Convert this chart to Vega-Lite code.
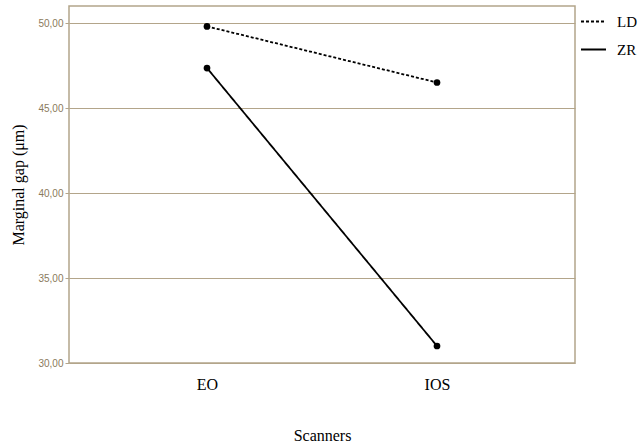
{
  "$schema": "https://vega.github.io/schema/vega-lite/v6.json",
  "width": 506,
  "height": 357,
  "autosize": {"type": "none"},
  "padding": {"left": 69, "top": 6, "right": 65, "bottom": 84},
  "background": "white",
  "config": {
    "view": {"stroke": "#b3a58a", "strokeWidth": 1.5},
    "font": "Liberation Serif"
  },
  "data": {
    "values": [
      {"scanner": "EO", "material": "LD", "gap": 49.8},
      {"scanner": "IOS", "material": "LD", "gap": 46.5},
      {"scanner": "EO", "material": "ZR", "gap": 47.35},
      {"scanner": "IOS", "material": "ZR", "gap": 31.0}
    ]
  },
  "encoding": {
    "x": {
      "field": "scanner",
      "type": "nominal",
      "sort": ["EO", "IOS"],
      "scale": {"type": "point", "padding": 0.6},
      "axis": {
        "title": "Scanners",
        "labelAngle": 0,
        "ticks": false,
        "domain": false,
        "grid": false,
        "labelFont": "Liberation Serif",
        "labelFontSize": 16,
        "labelColor": "black",
        "labelPadding": 13,
        "titleFont": "Liberation Serif",
        "titleFontSize": 16,
        "titleFontWeight": "normal",
        "titleColor": "black",
        "titlePadding": 35
      }
    },
    "y": {
      "field": "gap",
      "type": "quantitative",
      "scale": {"domain": [30, 51], "nice": false, "zero": false},
      "axis": {
        "title": "Marginal gap (μm)",
        "values": [30, 35, 40, 45, 50],
        "labelExpr": "replace(format(datum.value, '.2f'), '.', ',')",
        "labelFont": "Liberation Sans",
        "labelFontSize": 10,
        "labelColor": "#8a7a5c",
        "labelPadding": 2,
        "tickColor": "#b3a58a",
        "tickSize": 4,
        "domain": false,
        "grid": true,
        "gridColor": "#b3a58a",
        "gridOpacity": 1,
        "gridWidth": 1,
        "titleFont": "Liberation Serif",
        "titleFontSize": 16,
        "titleFontWeight": "normal",
        "titleColor": "black",
        "titlePadding": 11
      }
    }
  },
  "layer": [
    {
      "mark": {"type": "line", "color": "black", "strokeWidth": 1.8},
      "encoding": {
        "strokeDash": {
          "field": "material",
          "type": "nominal",
          "scale": {"domain": ["LD", "ZR"], "range": [[3, 2], [1, 0]]},
          "legend": {
            "title": null,
            "orient": "none",
            "legendX": 511,
            "legendY": 2,
            "symbolType": "stroke",
            "symbolSize": 625,
            "symbolStrokeColor": "black",
            "symbolStrokeWidth": 1.8,
            "labelFont": "Liberation Serif",
            "labelFontSize": 15,
            "labelColor": "black",
            "labelOffset": 10,
            "rowPadding": 6,
            "padding": 0
          }
        }
      }
    },
    {
      "mark": {"type": "point", "filled": true, "color": "black", "size": 45, "opacity": 1},
      "encoding": {"detail": {"field": "material"}}
    }
  ]
}
